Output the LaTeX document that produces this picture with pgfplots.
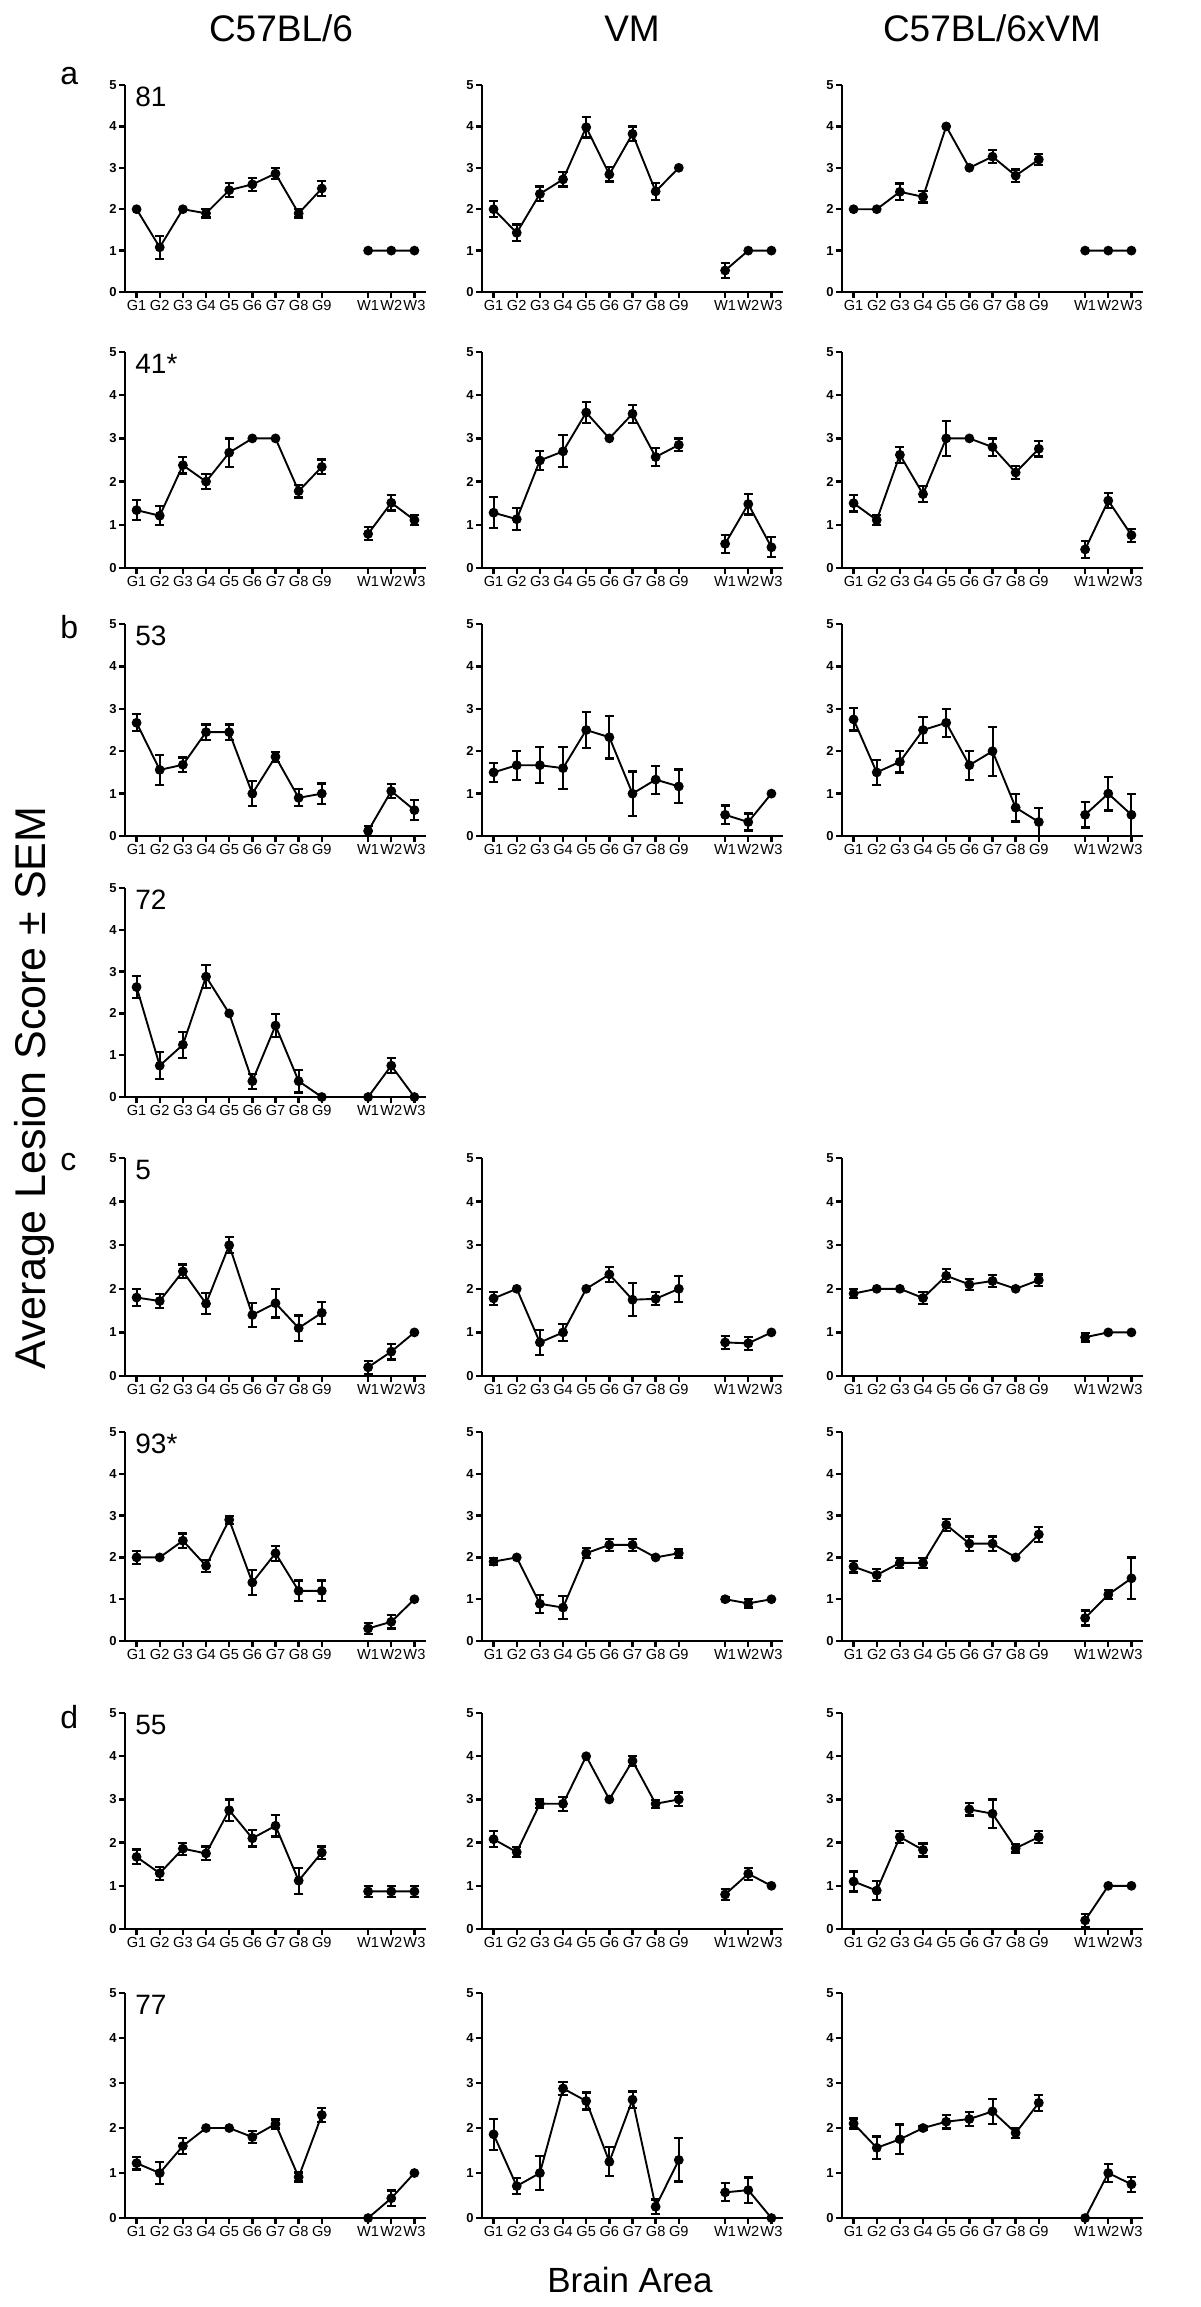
\documentclass[border=0pt]{standalone}
\usepackage{fontspec}
\setmainfont{Liberation Sans}
\usepackage{pgfplots}
\usepackage{pgfplotstable}
\pgfplotsset{compat=1.18}

% columns: x (G1..G9 = 1..9, W1..W3 = 11..13), y = mean, e = SEM
\pgfplotstableread{
x y e
1 2.0 0
2 1.08 0.28
3 2.0 0
4 1.9 0.1
5 2.46 0.17
6 2.6 0.16
7 2.86 0.14
8 1.9 0.1
9 2.5 0.19
10 nan 0
11 1 0
12 1 0
13 1 0
}\pAa
\pgfplotstableread{
x y e
1 2.0 0.19
2 1.43 0.2
3 2.37 0.18
4 2.72 0.17
5 3.98 0.25
6 2.84 0.17
7 3.82 0.18
8 2.43 0.2
9 3.0 0
10 nan 0
11 0.52 0.18
12 1 0
13 1 0
}\pAb
\pgfplotstableread{
x y e
1 2.0 0
2 2.0 0
3 2.42 0.2
4 2.3 0.14
5 4.0 0
6 3.0 0
7 3.27 0.16
8 2.81 0.15
9 3.2 0.13
10 nan 0
11 1 0
12 1 0
13 1 0
}\pAc
\pgfplotstableread{
x y e
1 1.34 0.23
2 1.21 0.22
3 2.38 0.19
4 2.0 0.17
5 2.67 0.33
6 3.0 0
7 3.0 0
8 1.78 0.15
9 2.34 0.17
10 nan 0
11 0.79 0.15
12 1.51 0.18
13 1.11 0.11
}\pBa
\pgfplotstableread{
x y e
1 1.28 0.36
2 1.13 0.25
3 2.49 0.22
4 2.7 0.37
5 3.6 0.25
6 3.0 0
7 3.57 0.21
8 2.57 0.21
9 2.85 0.15
10 nan 0
11 0.56 0.21
12 1.48 0.24
13 0.48 0.23
}\pBb
\pgfplotstableread{
x y e
1 1.5 0.19
2 1.11 0.12
3 2.62 0.19
4 1.71 0.18
5 3.0 0.4
6 3.0 0
7 2.8 0.2
8 2.21 0.15
9 2.76 0.18
10 nan 0
11 0.43 0.2
12 1.56 0.18
13 0.76 0.15
}\pBc
\pgfplotstableread{
x y e
1 2.67 0.2
2 1.56 0.36
3 1.68 0.17
4 2.45 0.18
5 2.45 0.18
6 1.0 0.3
7 1.87 0.12
8 0.9 0.2
9 1.0 0.24
10 nan 0
11 0.12 0.12
12 1.06 0.17
13 0.61 0.23
}\pCa
\pgfplotstableread{
x y e
1 1.5 0.22
2 1.67 0.34
3 1.67 0.42
4 1.6 0.5
5 2.5 0.42
6 2.33 0.5
7 1.0 0.52
8 1.33 0.33
9 1.17 0.4
10 nan 0
11 0.5 0.22
12 0.33 0.2
13 1.0 0
}\pCb
\pgfplotstableread{
x y e
1 2.75 0.26
2 1.5 0.3
3 1.75 0.25
4 2.5 0.31
5 2.67 0.33
6 1.67 0.34
7 2.0 0.58
8 0.67 0.33
9 0.33 0.33
10 nan 0
11 0.5 0.3
12 1.0 0.4
13 0.5 0.5
}\pCc
\pgfplotstableread{
x y e
1 2.63 0.26
2 0.75 0.32
3 1.25 0.31
4 2.88 0.28
5 2.0 0
6 0.38 0.18
7 1.71 0.28
8 0.38 0.27
9 0 0
10 nan 0
11 0 0
12 0.75 0.18
13 0 0
}\pDa
\pgfplotstableread{
x y e
1 1.8 0.2
2 1.72 0.16
3 2.4 0.16
4 1.66 0.24
5 3.0 0.18
6 1.4 0.27
7 1.67 0.33
8 1.1 0.29
9 1.45 0.25
10 nan 0
11 0.2 0.15
12 0.56 0.18
13 1.0 0
}\pEa
\pgfplotstableread{
x y e
1 1.78 0.15
2 2.0 0
3 0.77 0.29
4 1.0 0.2
5 2.0 0
6 2.33 0.17
7 1.75 0.38
8 1.77 0.15
9 2.0 0.3
10 nan 0
11 0.77 0.15
12 0.75 0.15
13 1.0 0
}\pEb
\pgfplotstableread{
x y e
1 1.89 0.1
2 2.0 0
3 2.0 0
4 1.79 0.13
5 2.3 0.15
6 2.1 0.12
7 2.18 0.14
8 2.0 0
9 2.2 0.13
10 nan 0
11 0.89 0.1
12 1.0 0
13 1.0 0
}\pEc
\pgfplotstableread{
x y e
1 2.0 0.15
2 2.0 0
3 2.4 0.17
4 1.8 0.14
5 2.9 0.1
6 1.4 0.3
7 2.1 0.18
8 1.2 0.25
9 1.2 0.25
10 nan 0
11 0.3 0.14
12 0.46 0.16
13 1.0 0
}\pFa
\pgfplotstableread{
x y e
1 1.9 0.09
2 2.0 0
3 0.89 0.22
4 0.8 0.28
5 2.1 0.12
6 2.3 0.14
7 2.3 0.14
8 2.0 0
9 2.1 0.11
10 nan 0
11 1.0 0.04
12 0.9 0.1
13 1.0 0
}\pFb
\pgfplotstableread{
x y e
1 1.78 0.14
2 1.58 0.15
3 1.87 0.12
4 1.87 0.12
5 2.78 0.14
6 2.33 0.17
7 2.33 0.17
8 2.0 0
9 2.55 0.18
10 nan 0
11 0.55 0.18
12 1.11 0.11
13 1.5 0.5
}\pFc
\pgfplotstableread{
x y e
1 1.67 0.17
2 1.29 0.15
3 1.86 0.14
4 1.75 0.16
5 2.75 0.25
6 2.1 0.19
7 2.39 0.25
8 1.12 0.3
9 1.77 0.14
10 nan 0
11 0.87 0.12
12 0.87 0.12
13 0.87 0.12
}\pGa
\pgfplotstableread{
x y e
1 2.08 0.18
2 1.78 0.12
3 2.9 0.1
4 2.9 0.16
5 4.0 0
6 3.0 0
7 3.89 0.11
8 2.9 0.09
9 3.0 0.16
10 nan 0
11 0.8 0.13
12 1.28 0.14
13 1.0 0
}\pGb
\pgfplotstableread{
x y e
1 1.1 0.23
2 0.89 0.22
3 2.13 0.14
4 1.83 0.15
5 nan 0
6 2.77 0.14
7 2.67 0.33
8 1.87 0.1
9 2.13 0.14
10 nan 0
11 0.2 0.15
12 1.0 0
13 1.0 0
}\pGc
\pgfplotstableread{
x y e
1 1.22 0.14
2 1.0 0.25
3 1.6 0.17
4 2.0 0
5 2.0 0
6 1.8 0.14
7 2.09 0.1
8 0.91 0.1
9 2.29 0.15
10 nan 0
11 0 0
12 0.44 0.17
13 1.0 0
}\pHa
\pgfplotstableread{
x y e
1 1.86 0.34
2 0.71 0.18
3 1.0 0.38
4 2.88 0.14
5 2.6 0.19
6 1.25 0.32
7 2.63 0.18
8 0.25 0.16
9 1.29 0.48
10 nan 0
11 0.57 0.2
12 0.62 0.28
13 0 0
}\pHb
\pgfplotstableread{
x y e
1 2.1 0.11
2 1.56 0.25
3 1.75 0.33
4 2.0 0.05
5 2.14 0.15
6 2.2 0.16
7 2.37 0.28
8 1.89 0.11
9 2.56 0.18
10 nan 0
11 0 0
12 1.0 0.2
13 0.75 0.17
}\pHc

\pgfplotsset{
  base/.style={
    scale only axis, anchor=south west, width=150.5pt,
    xmin=0.5, xmax=13.5, ymin=0, ymax=5,
    axis x line=bottom, axis y line=left,
    axis line style={-, line width=1.3pt, black},
    xtick={1,2,3,4,5,6,7,8,9,11,12,13},
    xticklabels={G1,G2,G3,G4,G5,G6,G7,G8,G9,W1,W2,W3},
    ytick={0,1,2,3,4,5},
    yticklabels={0,1,2,3,4,5},
    tick align=outside, major tick length=3pt,
    tick style={line width=1.2pt, black},
    xticklabel style={font=\fontsize{7.3}{8}\selectfont, inner sep=1pt},
    yticklabel style={font=\bfseries\fontsize{6.5}{7}\selectfont, inner sep=1pt},
    clip=false,
    /pgf/number format/assume math mode=true,
  }
}

\newcommand{\panel}[5]{%
\begin{axis}[base, at={(#1,#2)}, height=#3]
\addplot[black, only marks, mark=none, forget plot,
  restrict expr to domain={\thisrow{e}}{0.001:10},
  error bars/.cd, y dir=both, y explicit,
  error bar style={line width=1pt, black},
  error mark options={rotate=90, mark size=2.3pt, line width=1.1pt, black}]
  table[x=x, y=y, y error=e] {#4};
\addplot[black, line width=0.95pt, mark=*, mark size=1.95pt, unbounded coords=jump]
  table[x=x, y=y] {#4};
\node[anchor=north west, inner sep=0pt, font=\fontsize{14}{14}\selectfont]
  at (rel axis cs:0,1) [xshift=5pt, yshift=-1pt] {#5};
\end{axis}}

\begin{document}
\begin{tikzpicture}
\useasboundingbox (0pt,0pt) rectangle (600pt,-1153.5pt);

% column headers
\node[font=\fontsize{18.5}{19}\selectfont, anchor=base] at (140.5pt,-21pt) {C57BL/6};
\node[font=\fontsize{18.5}{19}\selectfont, anchor=base] at (316pt,-21pt) {VM};
\node[font=\fontsize{18.5}{19}\selectfont, anchor=base] at (496pt,-21pt) {C57BL/6xVM};

% row letters
\node[font=\fontsize{16}{16}\selectfont, anchor=base west, inner sep=0pt] at (30pt,-42.5pt) {a};
\node[font=\fontsize{16}{16}\selectfont, anchor=base west, inner sep=0pt] at (30pt,-319pt) {b};
\node[font=\fontsize{16}{16}\selectfont, anchor=base west, inner sep=0pt] at (30pt,-585pt) {c};
\node[font=\fontsize{16}{16}\selectfont, anchor=base west, inner sep=0pt] at (30pt,-864pt) {d};

% axis titles
\node[font=\fontsize{21.5}{22}\selectfont, rotate=90] at (17pt,-544pt) {Average Lesion Score ± SEM};
\node[font=\fontsize{17.5}{18}\selectfont, anchor=base] at (315pt,-1146pt) {Brain Area};

% row 1
\panel{62.5pt}{-146pt}{103.5pt}{\pAa}{81}
\panel{241pt}{-146pt}{103.5pt}{\pAb}{}
\panel{421pt}{-146pt}{103.5pt}{\pAc}{}
% row 2
\panel{62.5pt}{-284pt}{108pt}{\pBa}{41*}
\panel{241pt}{-284pt}{108pt}{\pBb}{}
\panel{421pt}{-284pt}{108pt}{\pBc}{}
% row 3
\panel{62.5pt}{-418pt}{106pt}{\pCa}{53}
\panel{241pt}{-418pt}{106pt}{\pCb}{}
\panel{421pt}{-418pt}{106pt}{\pCc}{}
% row 4
\panel{62.5pt}{-548.5pt}{104.5pt}{\pDa}{72}
% row 5
\panel{62.5pt}{-688pt}{109pt}{\pEa}{5}
\panel{241pt}{-688pt}{109pt}{\pEb}{}
\panel{421pt}{-688pt}{109pt}{\pEc}{}
% row 6
\panel{62.5pt}{-820.5pt}{104.5pt}{\pFa}{93*}
\panel{241pt}{-820.5pt}{104.5pt}{\pFb}{}
\panel{421pt}{-820.5pt}{104.5pt}{\pFc}{}
% row 7
\panel{62.5pt}{-964.5pt}{108pt}{\pGa}{55}
\panel{241pt}{-964.5pt}{108pt}{\pGb}{}
\panel{421pt}{-964.5pt}{108pt}{\pGc}{}
% row 8
\panel{62.5pt}{-1109pt}{112.5pt}{\pHa}{77}
\panel{241pt}{-1109pt}{112.5pt}{\pHb}{}
\panel{421pt}{-1109pt}{112.5pt}{\pHc}{}
\end{tikzpicture}
\end{document}
